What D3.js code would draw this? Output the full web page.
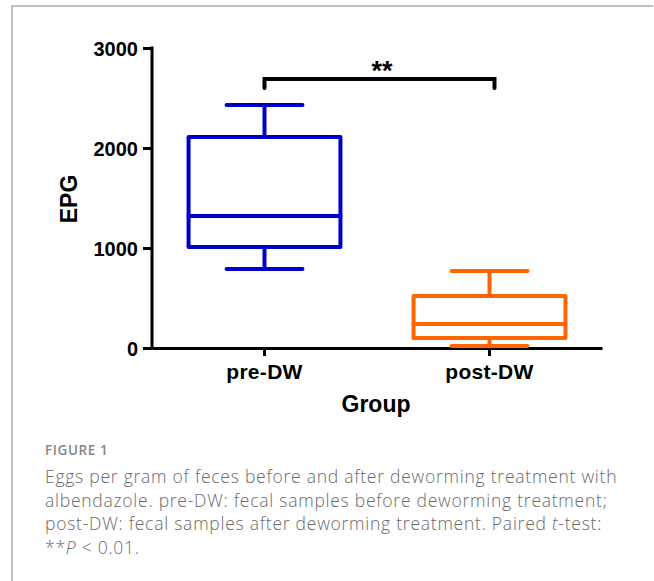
<!DOCTYPE html>
<html>
<head>
<meta charset="utf-8">
<script src="https://cdn.jsdelivr.net/npm/d3@7"></script>
<style>
  body { margin: 0; background: #fff; }
  svg { display: block; }
  .axis text { font-family: "Liberation Sans", Arial, sans-serif; font-weight: bold; fill: #000; }
</style>
</head>
<body>
<div id="chart"></div>
<script>
// box plot values (EPG)
const groups = ["pre-DW", "post-DW"];
const whiskerLow = [790, 20];
const q1 = [1010, 100];
const median = [1320, 240];
const q3 = [2110, 520];
const whiskerHigh = [2430, 770];
const boxColors = ["#0000CC", "#FF6600"];
const yTicks = [0, 1000, 2000, 3000];
const sigLabel = "**";
const sigLevel = [2600, 2690];
const captionLines = [
  "Eggs per gram of feces before and after deworming treatment with",
  "albendazole. pre-DW: fecal samples before deworming treatment;",
  "post-DW: fecal samples after deworming treatment. Paired ",
  "**"
];

const width = 654, height = 581;
const svg = d3.select("#chart").append("svg")
  .attr("width", width)
  .attr("height", height);

// frame of the figure panel
svg.append("path")
  .attr("d", "M12,581V6H653")
  .attr("fill", "none")
  .attr("stroke", "#aaa")
  .attr("stroke-width", 1.5);

const x = d3.scaleBand().domain(groups).range([152, 602]);
const y = d3.scaleLinear().domain([0, 3000]).range([348, 48]);
const cx = g => x(g) + x.bandwidth() / 2;
const boxW = x.bandwidth() * 0.675;

// axes
const yAxis = svg.append("g")
  .attr("class", "axis")
  .attr("transform", "translate(152,0)")
  .call(d3.axisLeft(y).tickValues(yTicks).tickSize(9).tickSizeOuter(0).tickPadding(5).tickFormat(d3.format("d")));
const xAxis = svg.append("g")
  .attr("class", "axis")
  .attr("transform", "translate(0,348)")
  .call(d3.axisBottom(x).tickSize(8).tickSizeOuter(0).tickPadding(8));
[yAxis, xAxis].forEach(a => {
  a.selectAll("path, line").attr("stroke", "#000").attr("stroke-width", 3);
});
yAxis.select(".domain").attr("d", `M0,${y(3000) - 1.5}V${y(0) + 1.5}`);
yAxis.selectAll("text").style("font-size", "20px").attr("dy", "0.36em");
xAxis.selectAll("text").style("font-size", "21px").style("letter-spacing", "0.3px");

// boxes
const box = svg.selectAll(".box")
  .data(groups)
  .join("g")
  .attr("class", "box")
  .attr("fill", "none")
  .attr("stroke", (d, i) => boxColors[i])
  .attr("stroke-width", 4)
  .attr("stroke-linecap", "round")
  .attr("stroke-linejoin", "round");

box.append("rect")
  .attr("x", d => cx(d) - boxW / 2)
  .attr("width", boxW)
  .attr("y", (d, i) => y(q3[i]))
  .attr("height", (d, i) => y(q1[i]) - y(q3[i]));
box.append("line")
  .attr("x1", d => cx(d) - boxW / 2).attr("x2", d => cx(d) + boxW / 2)
  .attr("y1", (d, i) => y(median[i])).attr("y2", (d, i) => y(median[i]));
box.append("line")
  .attr("x1", cx).attr("x2", cx)
  .attr("y1", (d, i) => y(q3[i])).attr("y2", (d, i) => y(whiskerHigh[i]));
box.append("line")
  .attr("x1", cx).attr("x2", cx)
  .attr("y1", (d, i) => y(q1[i])).attr("y2", (d, i) => y(whiskerLow[i]));
[whiskerHigh, whiskerLow].forEach(w => {
  box.append("line")
    .attr("x1", d => cx(d) - boxW / 4).attr("x2", d => cx(d) + boxW / 4)
    .attr("y1", (d, i) => y(w[i])).attr("y2", (d, i) => y(w[i]));
});

// significance bracket
svg.append("path")
  .attr("d", `M${cx(groups[0])},${y(sigLevel[0])}V${y(sigLevel[1])}H${cx(groups[1]) + 5}V${y(sigLevel[0])}`)
  .attr("fill", "none")
  .attr("stroke", "#000")
  .attr("stroke-width", 4)
  .attr("stroke-linecap", "round");
svg.append("text")
  .attr("x", 382).attr("y", 80)
  .attr("text-anchor", "middle")
  .style("font", "bold 27px 'Liberation Sans', Arial, sans-serif")
  .text(sigLabel);

// axis titles
svg.append("text")
  .attr("transform", "translate(77,199) rotate(-90)")
  .attr("text-anchor", "middle")
  .style("font", "bold 23px 'Liberation Sans', Arial, sans-serif")
  .text("EPG");
svg.append("text")
  .attr("x", 376).attr("y", 412)
  .attr("text-anchor", "middle")
  .style("font", "bold 23px 'Liberation Sans', Arial, sans-serif")
  .text("Group");

// caption
svg.append("text")
  .attr("x", 45).attr("y", 455)
  .attr("fill", "#858585")
  .style("font", "600 13.5px 'Open Sans', sans-serif")
  .style("letter-spacing", "0.6px")
  .text("FIGURE 1");
const cap = svg.append("g")
  .attr("fill", "#6a6a6a")
  .style("font", "300 17.5px 'Open Sans', sans-serif")
  .style("letter-spacing", "0.75px");
captionLines.forEach((line, i) => {
  const t = cap.append("text").attr("x", 45).attr("y", 483 + i * 23.5);
  if (i === 2) {
    t.append("tspan").text(line);
    t.append("tspan").style("font-style", "italic").text("t");
    t.append("tspan").text("-test:");
  } else if (i === 3) {
    t.append("tspan").text(line);
    t.append("tspan").style("font-style", "italic").text("P");
    t.append("tspan").text(" < 0.01.");
  } else {
    t.text(line);
  }
});
</script>
</body>
</html>
